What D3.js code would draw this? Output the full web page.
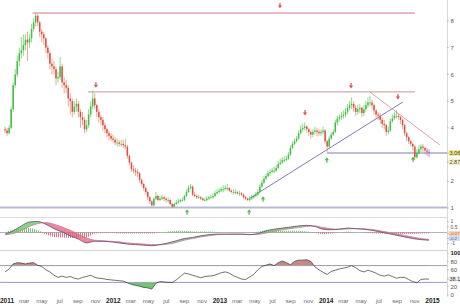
<!DOCTYPE html>
<html>
<head>
<meta charset="utf-8">
<script src="https://cdn.jsdelivr.net/npm/d3@7"></script>
<style>
  body { margin: 0; background: #fff; }
  svg { display: block; font-family: "Liberation Sans", Arial, sans-serif; }
</style>
</head>
<body>
<svg id="chart" width="460" height="308"></svg>
<script>
// weekly candles, first week starting 2010-12-27
const firstWeek = "2010-12-27";
const firstOpen = 3.95;
const closes = [3.9,3.8,4.0,4.7,5.6,6.0,6.5,6.8,6.9,7.1,
  7.3,7.2,7.35,7.7,7.95,8.2,7.95,7.6,7.5,7.35,
  7.0,6.8,6.4,6.3,6.2,5.85,5.9,6.3,5.7,5.6,
  5.5,5.1,5.0,4.6,4.8,4.9,4.6,4.4,4.3,3.95,
  4.1,4.5,4.8,5.1,4.85,4.6,4.4,4.3,4.1,3.95,
  3.8,3.7,3.6,3.55,3.45,3.45,3.4,3.4,3.35,3.3,
  2.95,2.7,2.45,2.4,2.35,2.3,2.05,1.9,1.75,1.6,
  1.4,1.25,1.1,1.35,1.45,1.3,1.35,1.4,1.35,1.3,
  1.3,1.15,1.05,1.15,1.2,1.25,1.3,1.3,1.45,1.6,
  1.75,1.8,1.5,1.45,1.4,1.4,1.35,1.3,1.3,1.35,
  1.4,1.4,1.45,1.55,1.6,1.65,1.7,1.7,1.75,1.75,
  1.65,1.6,1.6,1.6,1.55,1.55,1.5,1.4,1.35,1.3,
  1.35,1.4,1.45,1.5,1.6,1.8,1.95,2.1,2.2,2.3,
  2.35,2.4,2.4,2.5,2.65,2.7,2.8,2.8,2.85,3.0,
  3.25,3.4,3.5,3.6,3.8,3.95,4.0,4.05,3.95,3.85,
  3.75,3.85,3.9,3.85,3.8,3.85,3.9,3.5,3.3,3.6,
  3.75,3.85,4.2,4.35,4.4,4.45,4.5,4.6,4.75,4.85,
  4.9,4.75,4.6,4.7,4.75,4.55,4.7,4.85,4.95,4.95,
  4.85,4.65,4.5,4.45,4.3,4.15,4.1,3.85,3.9,4.25,
  4.35,4.45,4.45,4.4,4.3,4.1,3.8,3.65,3.5,3.4,
  3.3,2.9,3.05,3.2,3.3,3.25,3.15,3.1,3.06];
const highs = [4.05,4.0,4.1,4.8,5.7,6.2,6.7,7.0,7.4,7.5,
  7.5,7.6,7.5,7.9,8.1,8.3,8.25,8.0,7.7,7.6,
  7.4,7.1,6.9,6.6,6.5,6.3,6.1,6.65,6.4,5.9,
  5.8,5.6,5.3,5.1,5.0,5.1,5.0,4.7,4.6,4.4,
  4.3,4.7,5.0,5.4,5.3,4.9,4.7,4.5,4.4,4.2,
  4.0,3.9,3.8,3.75,3.65,3.6,3.55,3.55,3.55,3.6,
  3.35,3.0,2.75,2.6,2.5,2.45,2.35,2.1,1.95,1.8,
  1.65,1.45,1.3,1.4,1.6,1.5,1.45,1.5,1.45,1.4,
  1.4,1.35,1.2,1.2,1.3,1.35,1.35,1.4,1.5,1.7,
  1.85,1.9,1.85,1.6,1.5,1.5,1.45,1.4,1.4,1.45,
  1.45,1.5,1.55,1.65,1.7,1.75,1.8,1.85,1.85,1.9,
  1.8,1.7,1.7,1.7,1.65,1.65,1.6,1.55,1.45,1.4,
  1.45,1.5,1.5,1.6,1.7,1.9,2.05,2.2,2.3,2.4,
  2.45,2.5,2.55,2.6,2.75,2.85,2.9,2.95,2.95,3.1,
  3.35,3.5,3.6,3.7,3.9,4.1,4.15,4.2,4.1,4.0,
  3.9,3.95,4.05,4.0,3.95,3.95,4.05,3.95,3.55,3.7,
  3.85,3.95,4.3,4.45,4.5,4.6,4.65,4.75,4.9,5.0,
  5.15,5.0,4.85,4.85,4.9,4.8,4.85,5.0,5.15,5.2,
  5.05,4.9,4.7,4.6,4.55,4.4,4.3,4.15,4.05,4.35,
  4.5,4.6,4.65,4.55,4.45,4.35,4.15,3.85,3.7,3.55,
  3.45,3.35,3.2,3.35,3.4,3.4,3.3,3.25,3.2];
const lows = [3.8,3.7,3.75,3.95,4.6,5.5,5.9,6.3,6.6,6.7,
  6.9,6.5,7.0,7.2,7.6,7.8,7.8,7.4,7.2,7.1,
  6.8,6.6,6.2,6.0,6.0,5.6,5.7,5.8,5.5,5.3,
  5.3,4.8,4.5,4.4,4.5,4.6,4.4,4.0,4.1,3.8,
  3.85,4.0,4.4,4.7,4.7,4.4,4.2,4.1,3.9,3.8,
  3.65,3.55,3.5,3.45,3.35,3.3,3.3,3.3,3.25,3.2,
  2.85,2.6,2.35,2.3,2.2,2.15,1.95,1.8,1.65,1.5,
  1.3,1.15,1.05,1.05,1.3,1.25,1.25,1.3,1.25,1.2,
  1.2,1.1,1.0,1.0,1.1,1.15,1.2,1.25,1.25,1.4,
  1.55,1.7,1.45,1.4,1.35,1.35,1.3,1.25,1.25,1.25,
  1.3,1.35,1.35,1.4,1.5,1.55,1.6,1.6,1.65,1.65,
  1.6,1.55,1.5,1.5,1.5,1.45,1.45,1.35,1.3,1.25,
  1.25,1.3,1.35,1.4,1.45,1.55,1.75,1.9,2.05,2.15,
  2.2,2.3,2.3,2.35,2.45,2.6,2.65,2.7,2.75,2.8,
  2.95,3.2,3.35,3.45,3.55,3.75,3.85,3.9,3.8,3.7,
  3.6,3.65,3.75,3.7,3.7,3.7,3.75,3.4,3.1,3.25,
  3.55,3.7,3.8,4.1,4.25,4.3,4.35,4.4,4.5,4.65,
  4.7,4.6,4.45,4.5,4.55,4.4,4.45,4.6,4.75,4.8,
  4.7,4.5,4.35,4.3,4.15,4.0,3.95,3.7,3.75,3.85,
  4.2,4.3,4.35,4.3,4.15,3.95,3.7,3.5,3.4,3.3,
  3.15,2.8,2.85,3.0,3.1,3.1,3.0,2.95,2.9];

// MACD panel, one value every 4 weeks
const macd = [-0.15,0.15,0.6,0.95,1.0,0.75,0.35,0.05,-0.3,-0.6,
  -0.95,-0.8,-0.8,-0.85,-0.95,-1.05,-1.1,-1.15,-1.2,-1.1,
  -0.95,-0.75,-0.55,-0.45,-0.3,-0.2,-0.15,-0.15,-0.15,-0.15,
  -0.2,-0.1,0.15,0.3,0.4,0.5,0.6,0.65,0.55,0.3,
  0.25,0.3,0.4,0.35,0.3,0.2,0.05,-0.1,-0.25,-0.4,
  -0.55,-0.65,-0.7];
const signal = [-0.2,-0.1,0.2,0.55,0.8,0.9,0.75,0.5,0.2,-0.15,
  -0.5,-0.7,-0.75,-0.8,-0.85,-0.95,-1.0,-1.05,-1.1,-1.12,
  -1.05,-0.9,-0.7,-0.55,-0.4,-0.3,-0.2,-0.17,-0.15,-0.15,
  -0.17,-0.17,-0.05,0.1,0.25,0.35,0.45,0.55,0.6,0.45,
  0.35,0.3,0.32,0.35,0.33,0.27,0.15,0.02,-0.12,-0.27,
  -0.42,-0.55,-0.63];
const hist = [0.05,0.25,0.4,0.4,0.2,-0.15,-0.4,-0.45,-0.5,-0.45,
  -0.45,-0.1,-0.05,-0.05,-0.1,-0.1,-0.1,-0.1,-0.1,0,
  0.1,0.15,0.15,0.1,0.1,0.1,0.05,0,0,0,
  -0.03,0.07,0.2,0.2,0.15,0.15,0.15,0.1,-0.05,-0.15,
  -0.1,0,0.08,0,-0.03,-0.07,-0.1,-0.12,-0.13,-0.13,
  -0.13,-0.1,-0.07];

// RSI panel, one value every 2 weeks
const rsi = [55,62,74,77,76,74,76,77,71,68,
  60,55,47,42,45,42,44,40,38,42,
  44,47,42,40,39,37,36,35,34,33,
  29,25,23,21,18,17,14,28,32,31,
  30,30,36,44,52,50,47,44,41,44,
  45,46,49,53,55,52,46,42,38,37,
  43,49,60,68,71,74,70,77,81,77,
  72,80,83,83,84,80,67,60,54,49,
  56,59,62,64,66,70,65,58,55,59,
  56,52,47,45,48,44,40,42,42,37,
  32,29,37,38,38];

// drawn lines: [from, to, priceFrom, priceTo]
const resistanceLines = [["2011-04-01", "2014-11-03", 8.3, 8.3],
                         ["2011-10-08", "2014-11-03", 5.35, 5.35]];
const upTrend = ["2013-04-16", "2014-09-23", 1.37, 4.97];
const downTrend = ["2014-06-02", "2015-01-28", 5.34, 3.36];
const supportLine = ["2014-01-05", "2015-03-01", 3.06, 3.06];
const floorLine = ["2010-12-01", "2015-03-01", 1.02, 1.02];

// signal arrows [date, price]
const sellArrows = [["2011-11-04", 5.6], ["2013-07-28", 8.57], ["2013-10-22", 4.56],
                    ["2014-03-29", 5.57], ["2014-09-06", 5.16]];
const buyArrows = [["2012-09-12", 0.85], ["2013-04-13", 0.85], ["2013-05-31", 1.34],
                   ["2014-01-05", 2.8], ["2014-10-28", 2.83]];

const priceTicks = [1, 2, 4, 5, 6, 7, 8];
const lastPrice = 3.06, lowLabel = 2.87;
const macdTicks = [1, 0.5, -1];
const macdLast = -0.07, signalLast = -0.2;
const rsiTicks = [0, 20, 60, 80, 100];
const rsiLast = 38.1;
const monthNames = ["", "jan", "mar", "apr", "may", "jun", "jul", "aug", "sep", "oct", "nov", "dec"];

const svg = d3.select("#chart");
const parse = d3.utcParse("%Y-%m-%d");
const weekDate = i => d3.utcDay.offset(parse(firstWeek), 7 * i);
const plotRight = 447;

const x = d3.scaleUtc()
  .domain([Date.UTC(2011, 0, 1), Date.UTC(2015, 0, 1)])
  .range([6.5, 432]);
const y = d3.scaleLinear().domain([1, 8]).range([208, 21]);
const yM = d3.scaleLinear().domain([-1, 1]).range([243.5, 221.5]);
const yR = d3.scaleLinear().domain([0, 100]).range([295, 253]);

const defs = svg.append("defs");
defs.append("clipPath").attr("id", "clipMain")
  .append("rect").attr("x", 0).attr("y", 0).attr("width", plotRight).attr("height", 216);

// panel frame lines
svg.append("line").attr("x1", 0).attr("x2", plotRight).attr("y1", 217.5).attr("y2", 217.5)
  .attr("stroke", "#dcdcdc").attr("stroke-width", 1);
svg.append("line").attr("x1", 0).attr("x2", plotRight).attr("y1", 250.5).attr("y2", 250.5)
  .attr("stroke", "#d0d0d0").attr("stroke-width", 1);
svg.append("line").attr("x1", plotRight + 0.5).attr("x2", plotRight + 0.5).attr("y1", 0).attr("y2", 297)
  .attr("stroke", "#d8d8d8").attr("stroke-width", 1);

// ---- main price panel ----
const main = svg.append("g").attr("clip-path", "url(#clipMain)");

function drawSeg(g, seg, color, width) {
  g.append("line")
    .attr("x1", x(parse(seg[0]))).attr("x2", x(parse(seg[1])))
    .attr("y1", y(seg[2])).attr("y2", y(seg[3]))
    .attr("stroke", color).attr("stroke-width", width);
}
drawSeg(main, floorLine, "#b9b9d6", 2);
drawSeg(main, resistanceLines[0], "#e2a0ab", 1.3);
drawSeg(main, resistanceLines[1], "#cfa9a9", 1.3);
drawSeg(main, supportLine, "#a9a9c9", 1.4);
drawSeg(main, upTrend, "#7c7cba", 1);
drawSeg(main, downTrend, "#e0a0a8", 1);

const candles = closes.map((c, i) => ({
  date: weekDate(i), o: i ? closes[i - 1] : firstOpen, h: highs[i], l: lows[i], c: c,
  last: i >= closes.length - 2
}));
const candleColor = d => d.last ? "#b55fcc" : (d.c >= d.o ? "#3fbf3f" : "#e24a4a");

main.append("g").selectAll("line").data(candles).enter().append("line")
  .attr("x1", d => x(d.date)).attr("x2", d => x(d.date))
  .attr("y1", d => y(d.h)).attr("y2", d => y(d.l))
  .attr("stroke", d => d.last ? "#b55fcc" : (d.c >= d.o ? "#5fc95f" : "#e8865a"))
  .attr("stroke-width", 0.7);
main.append("g").selectAll("rect").data(candles).enter().append("rect")
  .attr("x", d => x(d.date) - 0.75)
  .attr("y", d => y(Math.max(d.o, d.c)))
  .attr("width", 1.5)
  .attr("height", d => Math.max(0.8, Math.abs(y(d.o) - y(d.c))))
  .attr("fill", candleColor);

function arrow(g, list, color, down) {
  g.append("g").selectAll("path").data(list).enter().append("path")
    .attr("transform", d => `translate(${x(parse(d[0]))},${y(d[1])})${down ? "" : " rotate(180)"}`)
    .attr("d", "M-0.6,-2.8 L0.6,-2.8 L0.6,-0.3 L2.1,-0.3 L0,2.6 L-2.1,-0.3 L-0.6,-0.3 Z")
    .attr("fill", color);
}
arrow(svg, sellArrows, "#d9534f", true);
arrow(svg, buyArrows, "#4cb84c", false);

// ---- MACD panel ----
const mData = macd.map((v, k) => ({ date: weekDate(4 * k), m: v, s: signal[k], h: hist[k] }));
const curve = d3.curveMonotoneX;
svg.append("line").attr("x1", 0).attr("x2", plotRight).attr("y1", yM(0)).attr("y2", yM(0))
  .attr("stroke", "#a0a0a0").attr("stroke-width", 0.8);

const pat = (id, color) => {
  const p = defs.append("pattern").attr("id", id).attr("patternUnits", "userSpaceOnUse")
    .attr("width", 2).attr("height", 2);
  p.append("rect").attr("x", 0).attr("y", 0).attr("width", 0.8).attr("height", 2).attr("fill", color);
};
pat("histUp", "#52b852");
pat("histDown", "#d8506a");
svg.append("path").datum(mData)
  .attr("d", d3.area().curve(curve).x(d => x(d.date)).y0(yM(0)).y1(d => yM(Math.max(0, d.h))))
  .attr("fill", "url(#histUp)");
svg.append("path").datum(mData)
  .attr("d", d3.area().curve(curve).x(d => x(d.date)).y0(yM(0)).y1(d => yM(Math.min(0, d.h))))
  .attr("fill", "url(#histDown)");

defs.append("clipPath").attr("id", "belowMacd").append("path").datum(mData)
  .attr("d", d3.area().curve(curve).x(d => x(d.date)).y0(260).y1(d => yM(d.m)));
defs.append("clipPath").attr("id", "aboveMacd").append("path").datum(mData)
  .attr("d", d3.area().curve(curve).x(d => x(d.date)).y0(215).y1(d => yM(d.m)));
svg.append("path").datum(mData).attr("clip-path", "url(#belowMacd)")
  .attr("d", d3.area().curve(curve).x(d => x(d.date)).y0(215).y1(d => yM(d.s)))
  .attr("fill", "#5cc85c").attr("fill-opacity", 0.75);
svg.append("path").datum(mData).attr("clip-path", "url(#aboveMacd)")
  .attr("d", d3.area().curve(curve).x(d => x(d.date)).y0(260).y1(d => yM(d.s)))
  .attr("fill", "#e0607a").attr("fill-opacity", 0.75);
svg.append("path").datum(mData)
  .attr("d", d3.line().curve(curve).x(d => x(d.date)).y(d => yM(d.s)))
  .attr("fill", "none").attr("stroke", "#d07f98").attr("stroke-width", 0.8);
svg.append("path").datum(mData)
  .attr("d", d3.line().curve(curve).x(d => x(d.date)).y(d => yM(d.m)))
  .attr("fill", "none").attr("stroke", "#6a5a7a").attr("stroke-width", 0.9);

// ---- RSI panel ----
const rData = rsi.map((v, j) => ({ date: weekDate(2 * j), v: v }));
defs.append("clipPath").attr("id", "over70").append("rect")
  .attr("x", 0).attr("y", 240).attr("width", plotRight).attr("height", yR(70) - 240);
defs.append("clipPath").attr("id", "under30").append("rect")
  .attr("x", 0).attr("y", yR(30)).attr("width", plotRight).attr("height", 20);
svg.append("path").datum(rData).attr("clip-path", "url(#over70)")
  .attr("d", d3.area().x(d => x(d.date)).y0(yR(70)).y1(d => yR(d.v)))
  .attr("fill", "#b5605a").attr("fill-opacity", 0.75);
svg.append("path").datum(rData).attr("clip-path", "url(#under30)")
  .attr("d", d3.area().x(d => x(d.date)).y0(yR(30)).y1(d => yR(d.v)))
  .attr("fill", "#4cb84c").attr("fill-opacity", 0.8);
svg.append("line").attr("x1", 0).attr("x2", plotRight).attr("y1", yR(70)).attr("y2", yR(70))
  .attr("stroke", "#8a8a8a").attr("stroke-width", 0.8);
svg.append("line").attr("x1", 0).attr("x2", plotRight).attr("y1", yR(30)).attr("y2", yR(30))
  .attr("stroke", "#9c9cc8").attr("stroke-width", 1);
svg.append("path").datum(rData)
  .attr("d", d3.line().x(d => x(d.date)).y(d => yR(d.v)))
  .attr("fill", "none").attr("stroke", "#333").attr("stroke-width", 0.7);

// ---- right axis labels ----
const ax = svg.append("g").attr("fill", "#555");
function tickLabel(yy, text, opts) {
  opts = opts || {};
  const size = opts.size || 6;
  if (opts.bg) {
    ax.append("rect").attr("x", plotRight + 1.5).attr("y", yy - size * 0.55)
      .attr("width", 460 - plotRight - 1.5).attr("height", size * 1.1).attr("fill", opts.bg);
  }
  ax.append("line").attr("x1", plotRight).attr("x2", plotRight + 2).attr("y1", yy).attr("y2", yy)
    .attr("stroke", "#aaa").attr("stroke-width", 0.6);
  ax.append("text").attr("x", plotRight + (opts.bg ? 2.5 : 3.5)).attr("y", yy).attr("dy", "0.35em")
    .attr("fill", opts.color || "#555").attr("font-weight", opts.bold ? "bold" : null)
    .attr("font-size", size).text(text);
}
priceTicks.forEach(v => tickLabel(y(v), String(v)));
tickLabel(y(lastPrice), lastPrice.toFixed(2), { bg: "#f1ec8f", color: "#333", size: 5.5 });
tickLabel(y(lowLabel) + 4, lowLabel.toFixed(2), { bg: "#f7f3bd", color: "#444", size: 5.5 });
macdTicks.forEach(v => tickLabel(yM(v), String(v), { size: 5 }));
tickLabel(yM(macdLast) + 0.3, String(macdLast), { bg: "#f6d2b8", color: "#c0603a", size: 4.4 });
tickLabel(yM(signalLast) + 3.8, String(signalLast), { bg: "#cfdaf3", color: "#4060b0", size: 4.4 });
rsiTicks.forEach(v => tickLabel(yR(v), String(v), { bold: v === 100, color: v === 100 ? "#222" : "#555" }));
tickLabel(yR(rsiLast), rsiLast.toFixed(1), { bg: "#eeeeee", color: "#333", size: 5.5 });

// ---- time axis ----
const xAxis = d3.axisBottom(x)
  .ticks(d3.utcMonth.every(2))
  .tickSize(0)
  .tickFormat(d => d.getUTCMonth() === 0 ? d3.utcFormat("%Y")(d) : monthNames[d.getUTCMonth()]);
const xg = svg.append("g").attr("transform", "translate(0,297)").call(xAxis);
xg.select(".domain").remove();
xg.selectAll("text")
  .attr("font-family", "Liberation Sans, Arial, sans-serif")
  .attr("font-size", d => d.getUTCMonth() === 0 ? 6.5 : 6)
  .attr("font-weight", d => d.getUTCMonth() === 0 ? "bold" : null)
  .attr("fill", d => d.getUTCMonth() === 0 ? "#222" : "#666")
  .attr("dy", "0.75em").attr("y", 1);
</script>
</body>
</html>
